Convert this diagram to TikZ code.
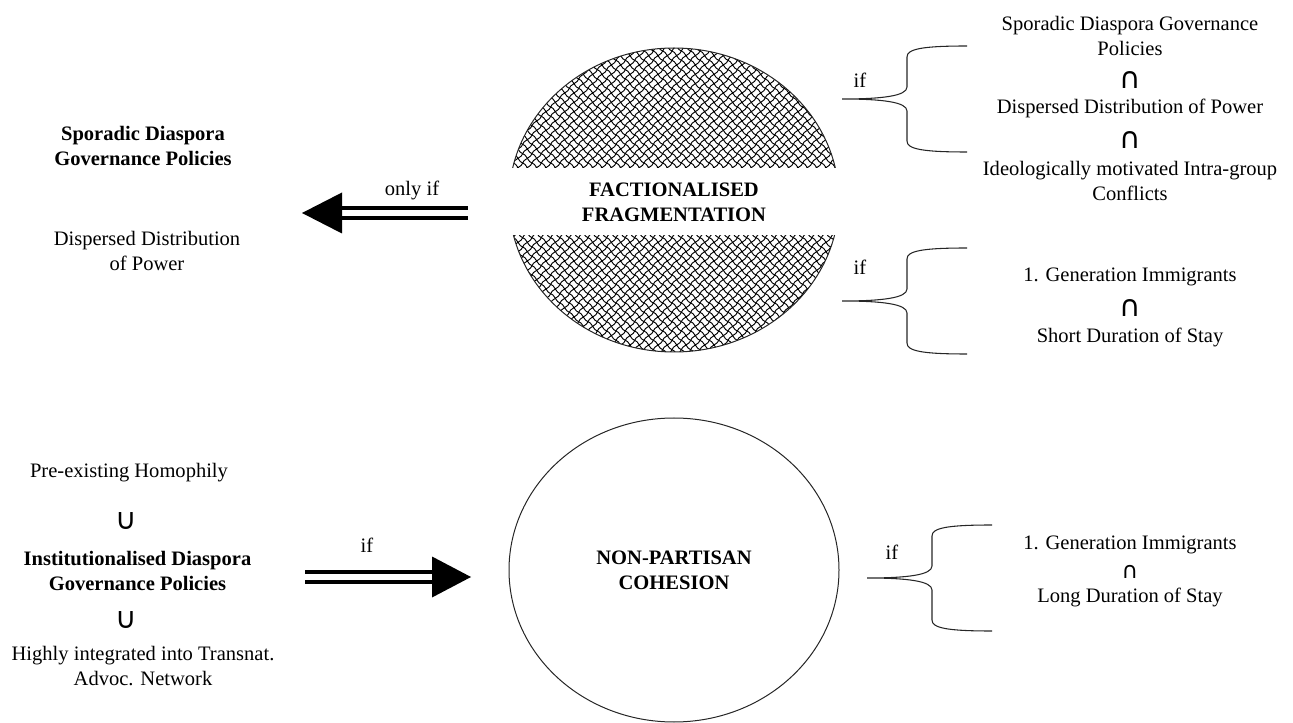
\documentclass[tikz,border=0pt]{standalone}
\usepackage{fontspec}
\setmainfont{Liberation Serif}
\newfontfamily\dgsym{DejaVu Sans}
\usetikzlibrary{patterns,shapes.geometric}
\newcommand\dgtxt{\fontsize{15.4pt}{18.75pt}\selectfont}
\pgfdeclarepatternformonly{chainlink}{\pgfqpoint{-1pt}{-1pt}}{\pgfqpoint{8pt}{8pt}}{\pgfqpoint{7pt}{7pt}}{%
  \pgfsetlinewidth{0.7pt}%
  \pgfpathmoveto{\pgfqpoint{0pt}{7pt}}%
  \pgfpathcurveto{\pgfqpoint{2.5pt}{7pt}}{\pgfqpoint{4.5pt}{0pt}}{\pgfqpoint{7pt}{0pt}}%
  \pgfpathmoveto{\pgfqpoint{0pt}{0pt}}%
  \pgfpathcurveto{\pgfqpoint{0pt}{2.5pt}}{\pgfqpoint{7pt}{4.5pt}}{\pgfqpoint{7pt}{7pt}}%
  \pgfusepath{stroke}%
}
\begin{document}
\begin{tikzpicture}[x=0.75pt,y=-0.75pt,
  every node/.style={inner sep=0pt, align=center, font=\dgtxt},
  bigell/.style={ellipse, draw=black!85, line width=0.75pt, minimum width=247.5pt, minimum height=228pt, inner sep=0pt},
  cupcap/.style={font=\fontsize{22pt}{24pt}\dgsym},
  smallcap/.style={font=\fontsize{17pt}{19pt}\dgsym},
  dblline/.style={draw=black, line width=3pt, double=white, double distance=4.2pt},
  bracepath/.style={draw=black!85, line width=0.8pt},
  lbrace/.pic={\path[bracepath] (125,-53) .. controls (80,-53) and (65,-50) .. (65,-42) -- (65,-12) .. controls (65,-3) and (40,0) .. (0,0) .. controls (40,0) and (65,3) .. (65,12) -- (65,42) .. controls (65,50) and (80,53) .. (125,53);}
]
\useasboundingbox (0,0) rectangle (1293,723);

% top ellipse with pattern and white band
\node[bigell, pattern=chainlink] (ff) at (674,200) {};
\fill[white] (495,168) rectangle (853,235);
\node[font=\dgtxt\bfseries] (fftext) at (674,202) {FACTIONALISED\\FRAGMENTATION};

% bottom ellipse
\node[bigell] (npc) at (674,570) {};
\node[font=\dgtxt\bfseries] (npctext) at (674,570) {NON-PARTISAN\\COHESION};

% braces
\coordinate (b1) at (842,99);
\coordinate (b2) at (842,301);
\coordinate (b3) at (867,578);
\pic at (b1) {lbrace};
\pic at (b2) {lbrace};
\pic at (b3) {lbrace};
\node (if1) at (860,80) {if};
\node (if2) at (860,267) {if};
\node (if3) at (892,552) {if};

% right texts top
\node (rt1) at (1130,35.5) {Sporadic Diaspora Governance\\Policies};
\node[cupcap] (rc1) at (1130,80) {∩};
\node (rt2) at (1130,108) {Dispersed Distribution of Power};
\node[cupcap] (rc2) at (1130,140) {∩};
\node (rt3) at (1130,180.5) {Ideologically motivated Intra-group\\Conflicts};

\node (rm1) at (1130,277) {1. Generation Immigrants};
\node[cupcap] (rmc) at (1130,308) {∩};
\node (rm2) at (1130,337) {Short Duration of Stay};

\node (rb1) at (1130,545) {1. Generation Immigrants};
\node[smallcap] (rbc) at (1130,572) {∩};
\node (rb2) at (1130,597) {Long Duration of Stay};

% left texts top
\node[font=\dgtxt\bfseries] (lt1) at (143,146) {Sporadic Diaspora\\Governance Policies};
\node (lt2) at (147,250.5) {Dispersed Distribution\\of Power};

% left texts bottom
\node (lb1) at (129,473) {Pre-existing Homophily};
\node[cupcap] (lbc1) at (126,521) {∪};
\node[font=\dgtxt\bfseries] (lb2) at (137.5,570.5) {Institutionalised Diaspora\\Governance Policies};
\node[cupcap] (lbc2) at (126,620) {∪};
\node (lb3) at (143,666.5) {Highly integrated into Transnat.\\Advoc. Network};

% only-if arrow
\coordinate (oifS) at (468,213);
\coordinate (oifH) at (340,213);
\coordinate (oifE) at (302,213);
\draw[dblline] (oifS) -- (oifH);
\fill[black] (oifE) -- ([shift={(40,-20.5)}]oifE) -- ([shift={(40,20.5)}]oifE) -- cycle;
\node (oiflbl) at (412,190) {only if};

% if arrow
\coordinate (ifS) at (305,577);
\coordinate (ifH) at (434,577);
\coordinate (ifE) at (471,577);
\draw[dblline] (ifS) -- (ifH);
\fill[black] (ifE) -- ([shift={(-39,-20.5)}]ifE) -- ([shift={(-39,20.5)}]ifE) -- cycle;
\node (iflbl) at (367,545) {if};
\end{tikzpicture}
\end{document}
